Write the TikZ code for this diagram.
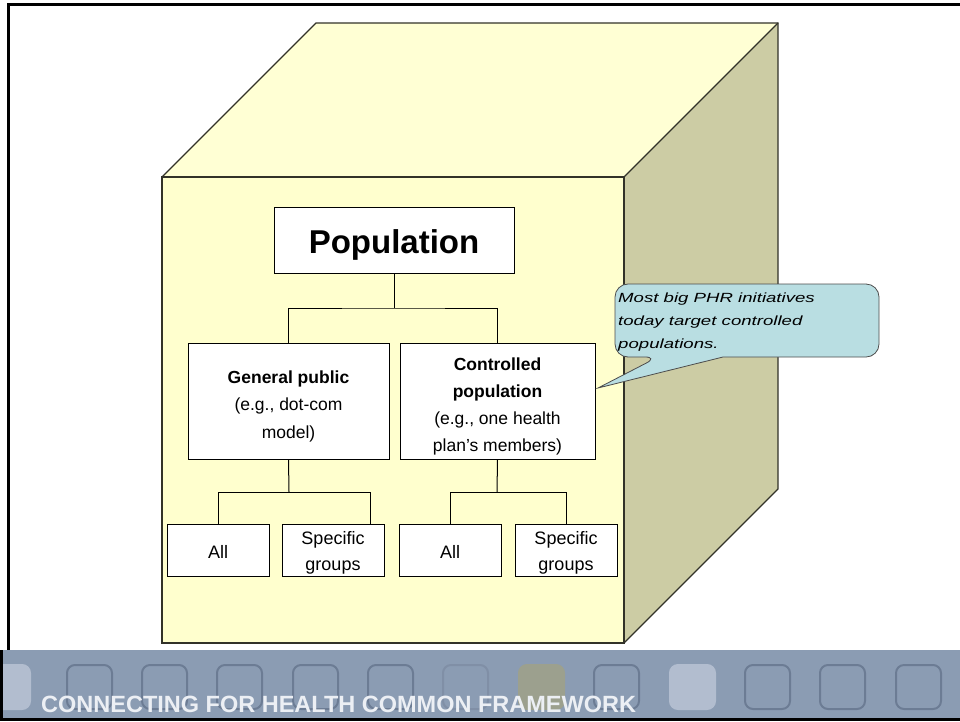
\documentclass[tikz,border=0pt]{standalone}
\usepackage{fontspec}
\setmainfont{Liberation Sans}
\newfontfamily\callfont[FakeStretch=1.4]{Liberation Sans}
\definecolor{frontY}{RGB}{255,255,206}
\definecolor{topY}{RGB}{255,255,212}
\definecolor{sideY}{RGB}{204,204,164}
\definecolor{edgeC}{RGB}{50,50,40}
\definecolor{callC}{RGB}{185,222,226}
\definecolor{barC}{RGB}{139,156,179}
\definecolor{sqC}{RGB}{108,124,148}
\definecolor{sqFaint}{RGB}{128,143,166}
\definecolor{olive}{RGB}{156,160,142}
\definecolor{lightSq}{RGB}{178,189,207}
\definecolor{barText}{RGB}{236,239,244}
\newcommand{\upstrut}[1]{\rule{0pt}{#1}}
\begin{document}
\begin{tikzpicture}[x=1pt,y=-1pt,
  box/.style={draw=black, line width=0.8pt, fill=white, inner sep=0pt, align=center},
  conn/.style={draw=black, line width=1pt},
  cubeedge/.style={draw=edgeC, line width=1.2pt, line join=miter},
  sq/.style={draw=sqC, line width=2pt, rounded corners=8pt},
]
\useasboundingbox (0,0) rectangle (960,721);
% frame
\draw[line width=3pt] (7,4) -- (960,4);
\draw[line width=3pt] (8,4) -- (8,650);
% cube
\fill[topY] (162,177) -- (316,23) -- (778,23) -- (624,177) -- cycle;
\fill[sideY] (624,177) -- (778,23) -- (778,489) -- (624,643) -- cycle;
\fill[frontY] (162,177) rectangle (624,643);
\draw[cubeedge] (162,177) -- (316,23) -- (778,23) -- (778,489) -- (624,643);
\draw[cubeedge] (778,23) -- (624,177);
\draw[cubeedge] (162,177) rectangle (624,643);
% boxes
\node[box, minimum width=240pt, minimum height=66pt, font=\bfseries\fontsize{33}{36}\selectfont] (pop) at (394,240) {\upstrut{34pt}Population};
\node[box, minimum width=201pt, minimum height=116pt, font=\fontsize{17.5}{27.5}\selectfont] (gp) at (288.5,401) {\upstrut{23pt}\textbf{General public}\\(e.g., dot-com\\model)};
\node[box, minimum width=195pt, minimum height=116pt, font=\fontsize{17.5}{27}\selectfont] (cp) at (497.5,401) {\upstrut{23pt}\textbf{Controlled}\\\textbf{population}\\(e.g., one health\\plan’s members)};
\node[box, minimum width=102pt, minimum height=52pt, font=\fontsize{18}{27}\selectfont] (a1) at (218,550) {\upstrut{17pt}All};
\node[box, minimum width=102pt, minimum height=52pt, font=\fontsize{18}{26}\selectfont] (s1) at (333,550) {\upstrut{19pt}Specific\\groups};
\node[box, minimum width=102pt, minimum height=52pt, font=\fontsize{18}{27}\selectfont] (a2) at (450,550) {\upstrut{17pt}All};
\node[box, minimum width=102pt, minimum height=52pt, font=\fontsize{18}{26}\selectfont] (s2) at (566,550) {\upstrut{19pt}Specific\\groups};
% connectors
\coordinate (j0) at (394,308);
\coordinate (j1) at (289,492);
\coordinate (j2) at (497,492);
\draw[conn] (pop.south) -- (j0);
\draw[conn] (gp.north) |- (j0) -| (cp.north);
\draw[conn] (gp.south) -- (j1);
\draw[conn] (a1.north) |- (j1) -- ([xshift=37pt]s1.north |- j1) -- ([xshift=37pt]s1.north);
\draw[conn] (cp.south) -- (j2);
\draw[conn] (a2.north) |- (j2) -| (s2.north);
% callout
\draw[draw=black!70, line width=0.8pt, fill=callC, rounded corners=13pt]
  (723,357) -- (879,357) -- (879,284) -- (615,284) -- (615,357) -- (658,357)
  [sharp corners] -- (598,388) -- cycle;
\node[anchor=north west, align=left, inner sep=0pt, font=\callfont\itshape\fontsize{13.3}{23}\selectfont] (note) at (618,293) {Most big PHR initiatives\\today target controlled\\populations.};
% bottom bar
\fill[barC] (0,650) rectangle (960,721);
\begin{scope}
\clip (0,650) rectangle (960,721);
\draw[sq, fill=lightSq, draw=lightSq] (-16,665) rectangle ++(46,44);
\foreach \x in {67,142,217,293,368,594,745,820,896}{
  \draw[sq] (\x,665) rectangle ++(45,44);
}
\draw[sq, draw=sqFaint] (443,665) rectangle ++(45,44);
\draw[sq, fill=olive, draw=olive] (519,665) rectangle ++(45,44);
\draw[sq, fill=lightSq, draw=lightSq] (670,665) rectangle ++(45,44);
\end{scope}
\draw[line width=3pt] (1.5,650) -- (1.5,721);
\draw[line width=3pt] (0,719.5) -- (960,719.5);
\node[anchor=base west, inner sep=0pt, text=barText, font=\bfseries\fontsize{23.5}{28}\selectfont] (foot) at (41,712) {CONNECTING FOR HEALTH COMMON FRAMEWORK};
\end{tikzpicture}
\end{document}
